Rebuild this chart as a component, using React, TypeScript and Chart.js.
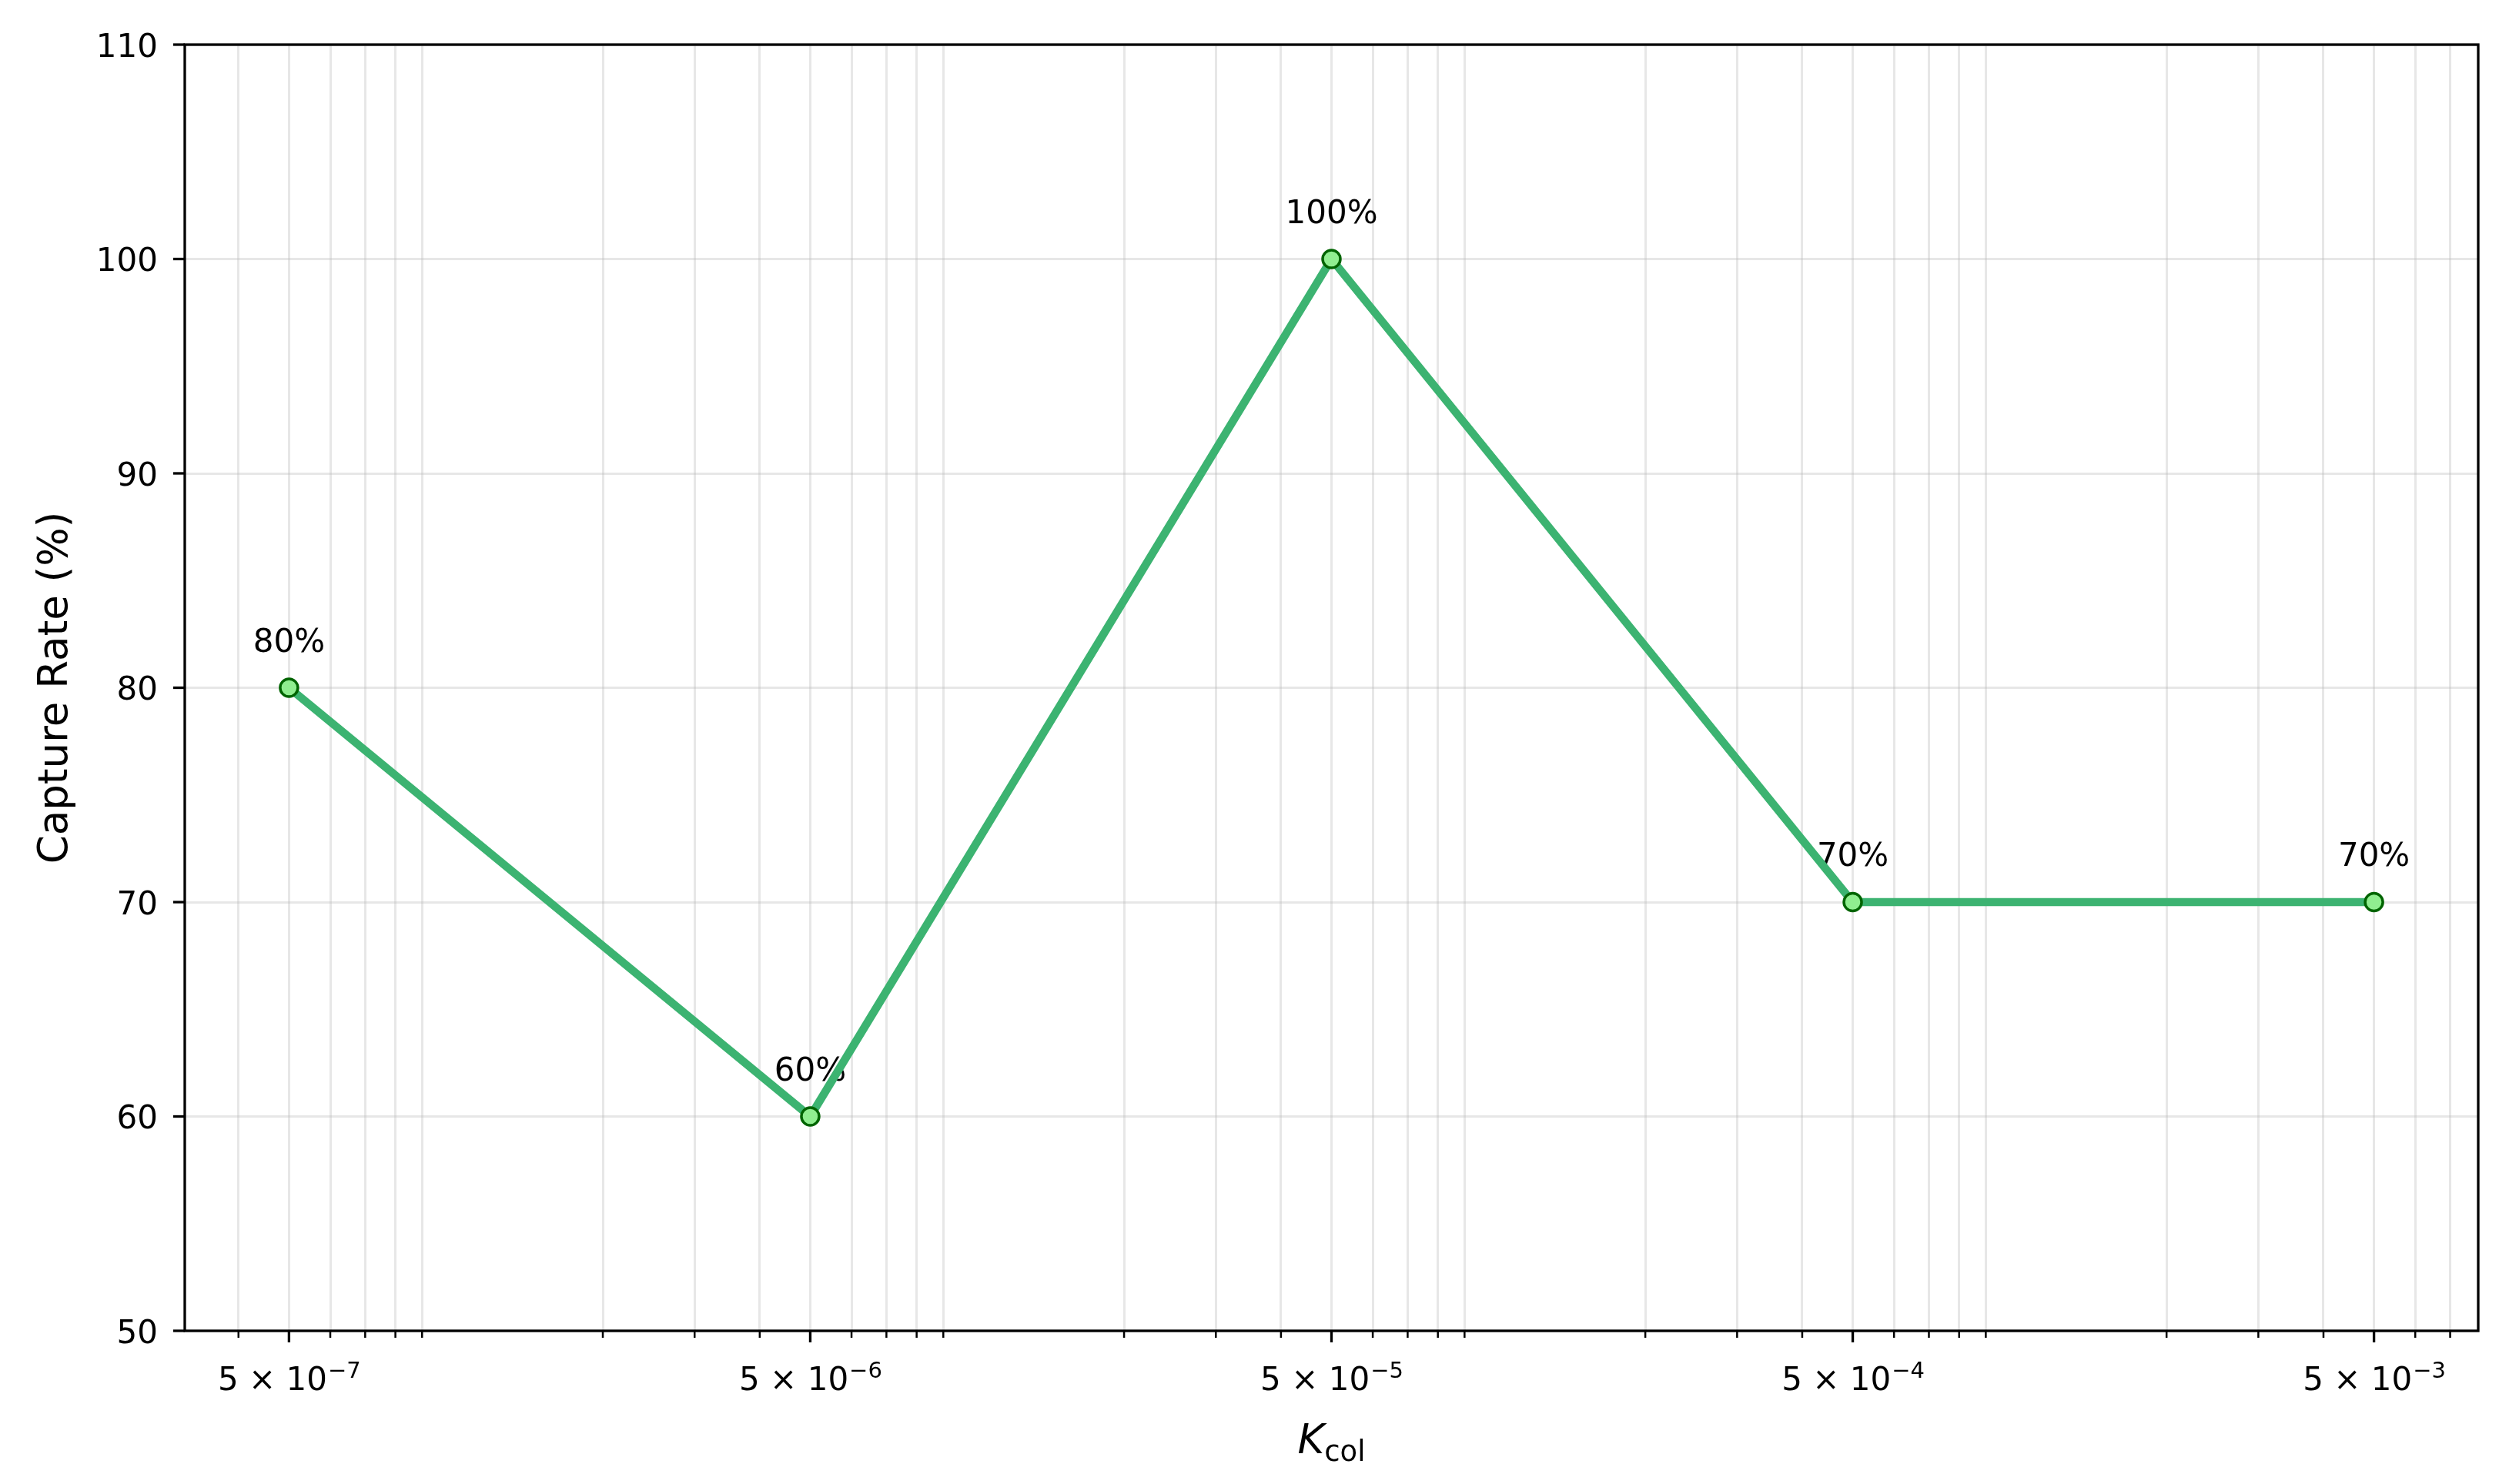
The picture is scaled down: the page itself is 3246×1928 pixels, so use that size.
import React, { useEffect, useRef } from 'react';
import { Chart, registerables } from 'chart.js';

Chart.register(...registerables);

// ---- data ----
const kValues = [5e-7, 5e-6, 5e-5, 5e-4, 5e-3];
const captureRates = [80, 60, 100, 70, 70];
const pointLabels = ['80%', '60%', '100%', '70%', '70%'];

// ---- ticks ----
const xMajorTicks = [5e-7, 5e-6, 5e-5, 5e-4, 5e-3];
const xMajorExponents = ['\u22127', '\u22126', '\u22125', '\u22124', '\u22123'];
const xMinorMantissas = [2, 3, 4, 5, 6, 7, 8, 9];
const xDecades = [-7, -6, -5, -4, -3];
const yTicks = [50, 60, 70, 80, 90, 100, 110];
const yTickLabels = ['50', '60', '70', '80', '90', '100', '110'];

const X_MIN = 3.155e-7;
const X_MAX = 7.924e-3;
const Y_MIN = 50;
const Y_MAX = 110;

const xAxisTitleMain = 'K';
const xAxisTitleSub = 'col';
const yAxisTitle = 'Capture Rate (%)';

const FONT = '"DejaVu Sans", "Noto Sans", sans-serif';
const W = 3246;
const H = 1928;

const allXTicks: number[] = [];
xDecades.forEach((e) => {
  xMinorMantissas.forEach((m) => {
    const v = m * Math.pow(10, e);
    if (v >= X_MIN && v <= X_MAX) allXTicks.push(v);
  });
});

const isMajor = (v: number) => xMajorTicks.some((t) => Math.abs(t - v) / t < 1e-6);

const decorPlugin = {
  id: 'decor',
  beforeDatasetsDraw(chart: any) {
    const ctx = chart.ctx;
    const xs = chart.scales.x;
    const ys = chart.scales.y;
    ctx.save();
    ctx.font = `42px ${FONT}`;
    ctx.fillStyle = '#000';
    ctx.textAlign = 'center';
    ctx.textBaseline = 'alphabetic';
    kValues.forEach((k, i) => {
      ctx.fillText(pointLabels[i], xs.getPixelForValue(k), ys.getPixelForValue(captureRates[i]) - 47);
    });
    ctx.restore();
  },
  afterDraw(chart: any) {
    const ctx = chart.ctx;
    const xs = chart.scales.x;
    const ys = chart.scales.y;
    const { left, right, top, bottom } = chart.chartArea;
    ctx.save();
    // spines
    ctx.strokeStyle = '#000';
    ctx.lineWidth = 3.3;
    ctx.lineJoin = 'miter';
    ctx.strokeRect(left, top, right - left, bottom - top);

    // x tick marks
    allXTicks.forEach((v) => {
      const px = xs.getPixelForValue(v);
      const major = isMajor(v);
      ctx.lineWidth = major ? 3.3 : 2.5;
      ctx.beginPath();
      ctx.moveTo(px, bottom);
      ctx.lineTo(px, bottom + (major ? 15 : 9));
      ctx.stroke();
    });
    // y tick marks
    ctx.lineWidth = 3.3;
    yTicks.forEach((v) => {
      const py = ys.getPixelForValue(v);
      ctx.beginPath();
      ctx.moveTo(left, py);
      ctx.lineTo(left - 15, py);
      ctx.stroke();
    });

    // y tick labels
    ctx.fillStyle = '#000';
    ctx.font = `42px ${FONT}`;
    ctx.textAlign = 'right';
    ctx.textBaseline = 'alphabetic';
    yTicks.forEach((v, i) => {
      const py = ys.getPixelForValue(v);
      ctx.fillText(yTickLabels[i], left - 35, py + 15.5);
    });

    // x tick labels: 5×10^{-n}
    xMajorTicks.forEach((v, i) => {
      const px = xs.getPixelForValue(v);
      const base = '5 \u00d7 10';
      ctx.font = `42px ${FONT}`;
      const wb = ctx.measureText(base).width;
      ctx.font = `29px ${FONT}`;
      const ws = ctx.measureText(xMajorExponents[i]).width;
      const start = px - (wb + ws) / 2;
      ctx.textAlign = 'left';
      ctx.font = `42px ${FONT}`;
      ctx.fillText(base, start, 1806);
      ctx.font = `29px ${FONT}`;
      ctx.fillText(xMajorExponents[i], start + wb + 1, 1790);
    });

    // x axis title: K_col
    ctx.font = `italic 53px ${FONT}`;
    const wk = ctx.measureText(xAxisTitleMain).width;
    ctx.font = `37px ${FONT}`;
    const wc = ctx.measureText(xAxisTitleSub).width;
    const cx = (left + right) / 2;
    const sx = cx - (wk + wc) / 2;
    ctx.textAlign = 'left';
    ctx.font = `italic 53px ${FONT}`;
    ctx.fillText(xAxisTitleMain, sx, 1888);
    ctx.font = `37px ${FONT}`;
    ctx.fillText(xAxisTitleSub, sx + wk, 1898);

    // y axis title
    ctx.translate(87, (top + bottom) / 2);
    ctx.rotate(-Math.PI / 2);
    ctx.textAlign = 'center';
    ctx.font = `53px ${FONT}`;
    ctx.fillText(yAxisTitle, 0, 0);
    ctx.restore();
  },
};

export default function App() {
  const canvasRef = useRef<HTMLCanvasElement | null>(null);

  useEffect(() => {
    if (!canvasRef.current) return;
    const gridColor = 'rgba(176,176,176,0.3)';
    const chart = new Chart(canvasRef.current, {
      type: 'line',
      data: {
        datasets: [
          {
            data: kValues.map((k, i) => ({ x: k, y: captureRates[i] })),
            borderColor: '#3CB371',
            borderWidth: 10.5,
            pointRadius: 11.5,
            pointHoverRadius: 11.5,
            pointBackgroundColor: '#90EE90',
            pointBorderColor: '#006400',
            pointBorderWidth: 3.5,
            tension: 0,
            fill: false,
          },
        ],
      },
      options: {
        responsive: false,
        devicePixelRatio: 1,
        animation: false,
        events: [],
        layout: { padding: { left: 240, top: 58, right: 27, bottom: 199 } },
        plugins: { legend: { display: false }, tooltip: { enabled: false }, title: { display: false } },
        scales: {
          x: {
            type: 'logarithmic',
            min: X_MIN,
            max: X_MAX,
            afterBuildTicks: (scale: any) => {
              scale.ticks = allXTicks.map((v) => ({ value: v, major: isMajor(v) }));
            },
            ticks: { display: false },
            grid: { color: gridColor, lineWidth: 3, drawTicks: false, tickLength: 0 },
            border: { display: false },
            title: { display: false },
          },
          y: {
            type: 'linear',
            min: Y_MIN,
            max: Y_MAX,
            ticks: { display: false, stepSize: 10 },
            grid: { color: gridColor, lineWidth: 3, drawTicks: false, tickLength: 0 },
            border: { display: false },
            title: { display: false },
          },
        },
      },
      plugins: [decorPlugin],
    } as any);
    return () => chart.destroy();
  }, []);

  return (
    <div style={{ position: 'fixed', left: 0, top: 0, width: W, height: H, background: '#fff' }}>
      <canvas ref={canvasRef} width={W} height={H} style={{ display: 'block' }} />
    </div>
  );
}
